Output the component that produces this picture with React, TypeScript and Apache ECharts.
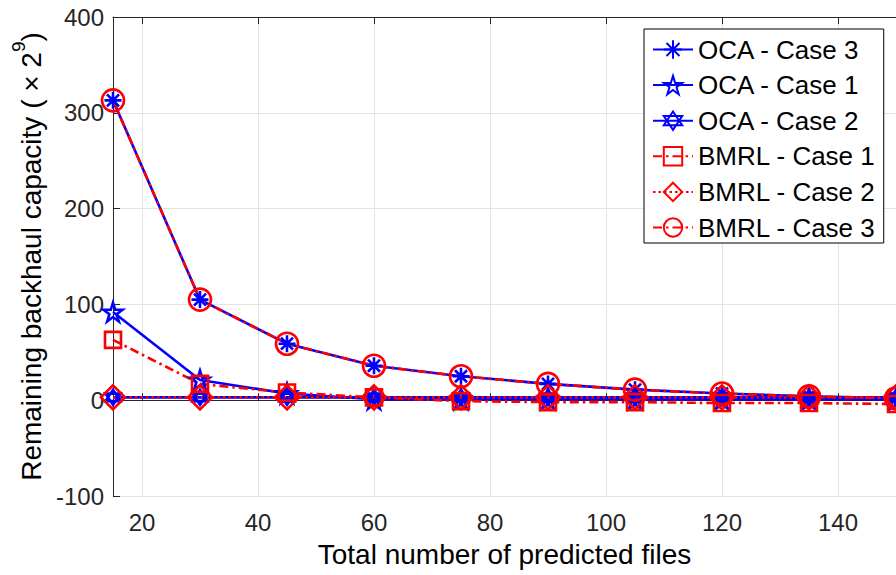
import React, { useEffect, useRef } from "react";
import * as echarts from "echarts";

const xValues = [15, 30, 45, 60, 75, 90, 105, 120, 135, 150];
const oca3 = [313, 105, 59, 36, 25, 17, 11, 7, 4, 2];
const oca1 = [92, 21, 7, 1, 1, 1, 1, 1, 1, 1];
const oca2 = [3, 3, 3, 3, 3, 3, 3, 3, 3, 3];
const bmrl1 = [63, 17, 8, 3, -1, -2, -2, -3, -3, -4];
const bmrl2 = [3, 3, 3, 3, 3, 3, 3, 3, 3, 3];
const bmrl3 = [313, 105, 59, 36, 25, 17, 11, 7, 4, 2];
const xTicks = [20, 40, 60, 80, 100, 120, 140];

const BLUE = "#0000ff";
const RED = "#ff0000";
const FONT = "Liberation Sans";

const ASTERISK = "path://M0,-100L0,100M-100,0L100,0M-70.7,-70.7L70.7,70.7M-70.7,70.7L70.7,-70.7";
const PENTAGRAM =
  "path://M0,-100L22.45,-30.9L95.11,-30.9L36.33,11.8L58.78,80.9L0,38.2L-58.78,80.9L-36.33,11.8L-95.11,-30.9L-22.45,-30.9Z";
const HEXAGRAM = "path://M0,-100L86.6,50L-86.6,50ZM0,100L-86.6,-50L86.6,-50Z";
const SQUARE = "path://M-100,-100L100,-100L100,100L-100,100Z";
const DIAMOND = "path://M0,-100L80,0L0,100L-80,0Z";
const CIRCLE = "path://M100,0A100,100,0,1,1,-100,0A100,100,0,1,1,100,0Z";

function makeSeries(
  name: string,
  values: number[],
  color: string,
  lineType: any,
  symbol: string,
  size: number,
  fill: string
) {
  return {
    name,
    type: "line",
    data: xValues.map((x, i) => [x, values[i]]),
    symbol,
    symbolSize: size,
    showAllSymbol: true,
    clip: false,
    lineStyle: { color, width: 2.6, type: lineType },
    itemStyle: { color: fill, borderColor: color, borderWidth: 2.6 },
    emphasis: { disabled: true },
  };
}

export default function App() {
  const ref = useRef<HTMLDivElement>(null);
  useEffect(() => {
    if (!ref.current) return;
    const chart = echarts.init(ref.current, undefined, { renderer: "svg" });
    const axisColor = "#262626";
    chart.setOption({
      animation: false,
      backgroundColor: "#ffffff",
      textStyle: { fontFamily: FONT },
      grid: { left: 113, top: 17, right: 0, bottom: 79 },
      legend: {
        orient: "vertical",
        left: 644,
        top: 29,
        padding: [6, 8, 1, 8],
        itemWidth: 40,
        itemHeight: 23,
        itemGap: 6.6,
        borderColor: "#000",
        borderWidth: 1,
        backgroundColor: "#fff",
        textStyle: { fontSize: 26, color: "#000", fontFamily: FONT, lineHeight: 29 },
        data: ["OCA - Case 3", "OCA - Case 1", "OCA - Case 2", "BMRL - Case 1", "BMRL - Case 2", "BMRL - Case 3"],
      },
      xAxis: [
        {
          type: "value",
          min: 15,
          max: 150,
          name: "Total number of predicted files",
          nameLocation: "middle",
          nameGap: 44,
          nameTextStyle: { fontSize: 28, color: "#000", fontFamily: FONT },
          axisLine: { show: true, lineStyle: { color: axisColor, width: 1 } },
          axisTick: { show: true, inside: true, length: 7, customValues: xTicks, lineStyle: { color: axisColor } },
          axisLabel: { fontSize: 24, color: axisColor, margin: 14, customValues: xTicks, fontFamily: FONT },
          splitLine: { show: true, lineStyle: { color: "#e3e3e3", width: 1 } },
        },
        {
          type: "value",
          position: "top",
          min: 15,
          max: 150,
          axisLine: { show: true, lineStyle: { color: axisColor, width: 1 } },
          axisTick: { show: true, inside: true, length: 7, customValues: xTicks, lineStyle: { color: axisColor } },
          axisLabel: { show: false },
          splitLine: { show: false },
        },
      ],
      yAxis: {
        type: "value",
        min: -100,
        max: 400,
        interval: 100,
        name: "{n|Remaining backhaul capacity ( × 2}{s|9}{n|)}",
        nameLocation: "middle",
        nameGap: 58,
        nameTextStyle: {
          fontFamily: FONT,
          color: "#000",
          rich: {
            n: { fontSize: 28, color: "#000", fontFamily: FONT, lineHeight: 36, verticalAlign: "bottom" },
            s: { fontSize: 19, color: "#000", fontFamily: FONT, lineHeight: 36, verticalAlign: "top" },
          },
        },
        axisLine: { show: true, lineStyle: { color: axisColor, width: 1 } },
        axisTick: { show: true, inside: true, length: 7, lineStyle: { color: axisColor } },
        axisLabel: { fontSize: 24, color: axisColor, margin: 9, fontFamily: FONT },
        splitLine: { show: true, lineStyle: { color: "#e3e3e3", width: 1 } },
      },
      series: [
        makeSeries("OCA - Case 3", oca3, BLUE, "solid", ASTERISK, 17, "rgba(0,0,0,0)"),
        makeSeries("OCA - Case 1", oca1, BLUE, "solid", PENTAGRAM, 19, "rgba(0,0,0,0)"),
        makeSeries("OCA - Case 2", oca2, BLUE, "solid", HEXAGRAM, 15, "rgba(0,0,0,0)"),
        makeSeries("BMRL - Case 1", bmrl1, RED, [9, 4, 2.5, 4], SQUARE, 16, "rgba(0,0,0,0)"),
        makeSeries("BMRL - Case 2", bmrl2, RED, [2.5, 3], DIAMOND, 24, "rgba(0,0,0,0)"),
        makeSeries("BMRL - Case 3", bmrl3, RED, [9, 4, 2.5, 4], CIRCLE, 22, "rgba(0,0,0,0)"),
      ],
    });
    return () => chart.dispose();
  }, []);
  return (
    <div
      ref={ref}
      style={{ position: "fixed", left: 0, top: 0, width: 896, height: 575, background: "#fff" }}
    />
  );
}
